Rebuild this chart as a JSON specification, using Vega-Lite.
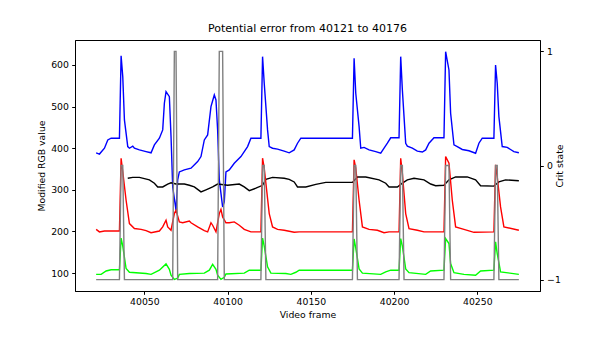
{
  "$schema": "https://vega.github.io/schema/vega-lite/v6.json",
  "width": 465,
  "height": 251,
  "autosize": {"type": "none"},
  "padding": {"left": 75, "top": 40, "right": 60, "bottom": 69},
  "title": {"text": "Potential error from 40121 to 40176", "fontSize": 11, "fontWeight": "normal", "font": "DejaVu Sans", "color": "#000", "offset": 5.6, "anchor": "middle"},
  "config": {
    "font": "DejaVu Sans",
    "view": {"stroke": "#000", "strokeWidth": 1},
    "axis": {"grid": false, "domainColor": "#000", "tickColor": "#000", "labelColor": "#000", "titleColor": "#000", "labelFont": "DejaVu Sans", "titleFont": "DejaVu Sans", "labelFontSize": 9.3, "titleFontSize": 9.3, "titleFontWeight": "normal", "tickSize": 3.3, "labelPadding": 3.3, "titlePadding": 3.7, "domainWidth": 1, "tickWidth": 1}
  },
  "datasets": {
    "blue": [
      {"frame": 40021, "value": 389}, {"frame": 40023, "value": 386}, {"frame": 40026, "value": 400}, {"frame": 40028, "value": 420}, {"frame": 40030, "value": 424}, {"frame": 40035, "value": 424}, {"frame": 40036, "value": 622}, {"frame": 40037, "value": 572}, {"frame": 40038, "value": 468}, {"frame": 40040, "value": 404}, {"frame": 40041, "value": 400}, {"frame": 40043, "value": 405}, {"frame": 40044, "value": 400}, {"frame": 40047, "value": 396}, {"frame": 40051, "value": 392}, {"frame": 40054, "value": 389}, {"frame": 40056, "value": 408}, {"frame": 40059, "value": 424}, {"frame": 40061, "value": 444}, {"frame": 40062, "value": 508}, {"frame": 40063, "value": 536}, {"frame": 40065, "value": 524}, {"frame": 40066, "value": 428}, {"frame": 40067, "value": 307}, {"frame": 40069, "value": 251}, {"frame": 40070, "value": 324}, {"frame": 40071, "value": 343}, {"frame": 40074, "value": 348}, {"frame": 40078, "value": 352}, {"frame": 40082, "value": 368}, {"frame": 40084, "value": 380}, {"frame": 40086, "value": 420}, {"frame": 40088, "value": 432}, {"frame": 40090, "value": 500}, {"frame": 40092, "value": 528}, {"frame": 40093, "value": 516}, {"frame": 40094, "value": 444}, {"frame": 40095, "value": 324}, {"frame": 40097, "value": 259}, {"frame": 40098, "value": 271}, {"frame": 40099, "value": 343}, {"frame": 40101, "value": 348}, {"frame": 40104, "value": 364}, {"frame": 40108, "value": 380}, {"frame": 40112, "value": 404}, {"frame": 40114, "value": 424}, {"frame": 40120, "value": 424}, {"frame": 40121, "value": 620}, {"frame": 40122, "value": 556}, {"frame": 40124, "value": 444}, {"frame": 40125, "value": 404}, {"frame": 40127, "value": 400}, {"frame": 40130, "value": 398}, {"frame": 40134, "value": 393}, {"frame": 40137, "value": 389}, {"frame": 40140, "value": 396}, {"frame": 40142, "value": 412}, {"frame": 40144, "value": 424}, {"frame": 40175, "value": 424}, {"frame": 40176, "value": 616}, {"frame": 40177, "value": 532}, {"frame": 40179, "value": 452}, {"frame": 40180, "value": 400}, {"frame": 40182, "value": 402}, {"frame": 40185, "value": 396}, {"frame": 40189, "value": 392}, {"frame": 40192, "value": 388}, {"frame": 40194, "value": 400}, {"frame": 40196, "value": 412}, {"frame": 40198, "value": 425}, {"frame": 40203, "value": 425}, {"frame": 40204, "value": 620}, {"frame": 40205, "value": 540}, {"frame": 40207, "value": 412}, {"frame": 40208, "value": 405}, {"frame": 40211, "value": 400}, {"frame": 40214, "value": 393}, {"frame": 40217, "value": 391}, {"frame": 40219, "value": 396}, {"frame": 40221, "value": 412}, {"frame": 40224, "value": 425}, {"frame": 40230, "value": 425}, {"frame": 40231, "value": 632}, {"frame": 40233, "value": 588}, {"frame": 40234, "value": 484}, {"frame": 40236, "value": 408}, {"frame": 40238, "value": 404}, {"frame": 40241, "value": 397}, {"frame": 40245, "value": 394}, {"frame": 40249, "value": 388}, {"frame": 40251, "value": 412}, {"frame": 40253, "value": 424}, {"frame": 40260, "value": 424}, {"frame": 40261, "value": 600}, {"frame": 40262, "value": 556}, {"frame": 40263, "value": 476}, {"frame": 40265, "value": 404}, {"frame": 40268, "value": 402}, {"frame": 40270, "value": 397}, {"frame": 40272, "value": 392}, {"frame": 40275, "value": 389}
    ],
    "black": [
      {"frame": 40040, "value": 328}, {"frame": 40043, "value": 330}, {"frame": 40047, "value": 330}, {"frame": 40053, "value": 324}, {"frame": 40056, "value": 316}, {"frame": 40058, "value": 307}, {"frame": 40061, "value": 307}, {"frame": 40064, "value": 314}, {"frame": 40066, "value": 317}, {"frame": 40069, "value": 314}, {"frame": 40074, "value": 314}, {"frame": 40077, "value": 311}, {"frame": 40080, "value": 307}, {"frame": 40084, "value": 295}, {"frame": 40087, "value": 300}, {"frame": 40091, "value": 307}, {"frame": 40094, "value": 314}, {"frame": 40100, "value": 311}, {"frame": 40107, "value": 314}, {"frame": 40110, "value": 307}, {"frame": 40113, "value": 298}, {"frame": 40117, "value": 304}, {"frame": 40121, "value": 311}, {"frame": 40123, "value": 325}, {"frame": 40127, "value": 330}, {"frame": 40134, "value": 328}, {"frame": 40137, "value": 325}, {"frame": 40140, "value": 319}, {"frame": 40142, "value": 307}, {"frame": 40147, "value": 307}, {"frame": 40153, "value": 313}, {"frame": 40159, "value": 318}, {"frame": 40175, "value": 318}, {"frame": 40178, "value": 331}, {"frame": 40183, "value": 331}, {"frame": 40191, "value": 324}, {"frame": 40195, "value": 316}, {"frame": 40197, "value": 307}, {"frame": 40202, "value": 307}, {"frame": 40205, "value": 316}, {"frame": 40208, "value": 324}, {"frame": 40212, "value": 328}, {"frame": 40218, "value": 324}, {"frame": 40222, "value": 314}, {"frame": 40225, "value": 310}, {"frame": 40230, "value": 311}, {"frame": 40233, "value": 324}, {"frame": 40237, "value": 331}, {"frame": 40244, "value": 331}, {"frame": 40249, "value": 324}, {"frame": 40252, "value": 310}, {"frame": 40260, "value": 309}, {"frame": 40263, "value": 319}, {"frame": 40267, "value": 324}, {"frame": 40275, "value": 322}
    ],
    "red": [
      {"frame": 40021, "value": 205}, {"frame": 40023, "value": 199}, {"frame": 40026, "value": 201}, {"frame": 40035, "value": 201}, {"frame": 40036, "value": 376}, {"frame": 40037, "value": 343}, {"frame": 40039, "value": 275}, {"frame": 40041, "value": 219}, {"frame": 40044, "value": 207}, {"frame": 40048, "value": 205}, {"frame": 40051, "value": 202}, {"frame": 40054, "value": 197}, {"frame": 40059, "value": 201}, {"frame": 40061, "value": 211}, {"frame": 40063, "value": 227}, {"frame": 40064, "value": 211}, {"frame": 40066, "value": 203}, {"frame": 40068, "value": 243}, {"frame": 40069, "value": 251}, {"frame": 40071, "value": 223}, {"frame": 40073, "value": 221}, {"frame": 40077, "value": 225}, {"frame": 40078, "value": 221}, {"frame": 40082, "value": 211}, {"frame": 40086, "value": 202}, {"frame": 40088, "value": 199}, {"frame": 40090, "value": 221}, {"frame": 40091, "value": 215}, {"frame": 40093, "value": 199}, {"frame": 40095, "value": 243}, {"frame": 40096, "value": 253}, {"frame": 40097, "value": 235}, {"frame": 40099, "value": 221}, {"frame": 40101, "value": 221}, {"frame": 40104, "value": 223}, {"frame": 40107, "value": 215}, {"frame": 40110, "value": 205}, {"frame": 40114, "value": 199}, {"frame": 40120, "value": 199}, {"frame": 40121, "value": 376}, {"frame": 40122, "value": 352}, {"frame": 40125, "value": 243}, {"frame": 40127, "value": 211}, {"frame": 40130, "value": 205}, {"frame": 40134, "value": 203}, {"frame": 40140, "value": 198}, {"frame": 40143, "value": 199}, {"frame": 40175, "value": 199}, {"frame": 40176, "value": 372}, {"frame": 40177, "value": 352}, {"frame": 40179, "value": 275}, {"frame": 40181, "value": 211}, {"frame": 40185, "value": 205}, {"frame": 40190, "value": 203}, {"frame": 40194, "value": 197}, {"frame": 40197, "value": 199}, {"frame": 40203, "value": 199}, {"frame": 40204, "value": 376}, {"frame": 40205, "value": 340}, {"frame": 40207, "value": 243}, {"frame": 40209, "value": 207}, {"frame": 40214, "value": 203}, {"frame": 40218, "value": 199}, {"frame": 40230, "value": 199}, {"frame": 40231, "value": 380}, {"frame": 40233, "value": 364}, {"frame": 40235, "value": 275}, {"frame": 40237, "value": 211}, {"frame": 40242, "value": 205}, {"frame": 40248, "value": 198}, {"frame": 40260, "value": 199}, {"frame": 40261, "value": 360}, {"frame": 40262, "value": 331}, {"frame": 40264, "value": 259}, {"frame": 40266, "value": 211}, {"frame": 40275, "value": 203}
    ],
    "green": [
      {"frame": 40021, "value": 97}, {"frame": 40024, "value": 97}, {"frame": 40027, "value": 105}, {"frame": 40030, "value": 108}, {"frame": 40035, "value": 108}, {"frame": 40036, "value": 184}, {"frame": 40037, "value": 165}, {"frame": 40039, "value": 111}, {"frame": 40041, "value": 102}, {"frame": 40051, "value": 99}, {"frame": 40054, "value": 97}, {"frame": 40059, "value": 107}, {"frame": 40063, "value": 122}, {"frame": 40065, "value": 109}, {"frame": 40066, "value": 95}, {"frame": 40068, "value": 85}, {"frame": 40070, "value": 88}, {"frame": 40071, "value": 97}, {"frame": 40077, "value": 99}, {"frame": 40086, "value": 100}, {"frame": 40089, "value": 107}, {"frame": 40091, "value": 121}, {"frame": 40093, "value": 109}, {"frame": 40094, "value": 95}, {"frame": 40096, "value": 85}, {"frame": 40098, "value": 90}, {"frame": 40099, "value": 98}, {"frame": 40110, "value": 100}, {"frame": 40113, "value": 107}, {"frame": 40120, "value": 107}, {"frame": 40121, "value": 184}, {"frame": 40122, "value": 165}, {"frame": 40124, "value": 115}, {"frame": 40126, "value": 100}, {"frame": 40135, "value": 99}, {"frame": 40138, "value": 97}, {"frame": 40141, "value": 102}, {"frame": 40143, "value": 107}, {"frame": 40175, "value": 107}, {"frame": 40176, "value": 182}, {"frame": 40177, "value": 160}, {"frame": 40179, "value": 110}, {"frame": 40181, "value": 100}, {"frame": 40192, "value": 97}, {"frame": 40195, "value": 103}, {"frame": 40198, "value": 107}, {"frame": 40203, "value": 107}, {"frame": 40204, "value": 183}, {"frame": 40205, "value": 165}, {"frame": 40207, "value": 110}, {"frame": 40209, "value": 101}, {"frame": 40219, "value": 97}, {"frame": 40222, "value": 105}, {"frame": 40230, "value": 107}, {"frame": 40231, "value": 183}, {"frame": 40233, "value": 171}, {"frame": 40234, "value": 123}, {"frame": 40236, "value": 101}, {"frame": 40242, "value": 97}, {"frame": 40249, "value": 95}, {"frame": 40252, "value": 105}, {"frame": 40260, "value": 107}, {"frame": 40261, "value": 175}, {"frame": 40262, "value": 147}, {"frame": 40264, "value": 103}, {"frame": 40275, "value": 97}
    ],
    "crit": [
      {"frame": 40021, "value": -1}, {"frame": 40035, "value": -1}, {"frame": 40036, "value": 0}, {"frame": 40037, "value": 0}, {"frame": 40038, "value": -1}, {"frame": 40067, "value": -1}, {"frame": 40068, "value": 1}, {"frame": 40069, "value": 1}, {"frame": 40070, "value": -1}, {"frame": 40094, "value": -1}, {"frame": 40095, "value": 1}, {"frame": 40097, "value": 1}, {"frame": 40098, "value": -1}, {"frame": 40120, "value": -1}, {"frame": 40121, "value": 0}, {"frame": 40122, "value": 0}, {"frame": 40123, "value": -1}, {"frame": 40175, "value": -1}, {"frame": 40176, "value": 0}, {"frame": 40177, "value": 0}, {"frame": 40178, "value": -1}, {"frame": 40203, "value": -1}, {"frame": 40204, "value": 0}, {"frame": 40205, "value": 0}, {"frame": 40206, "value": -1}, {"frame": 40230, "value": -1}, {"frame": 40231, "value": 0}, {"frame": 40233, "value": 0}, {"frame": 40234, "value": -1}, {"frame": 40260, "value": -1}, {"frame": 40261, "value": 0}, {"frame": 40262, "value": 0}, {"frame": 40263, "value": -1}, {"frame": 40275, "value": -1}
    ]
  },
  "layer": [
    {
      "encoding": {
        "x": {"field": "frame", "type": "quantitative", "scale": {"domain": [40008.3, 40287.7], "nice": false, "zero": false}, "axis": {"title": "Video frame", "values": [40050, 40100, 40150, 40200, 40250], "format": "d"}},
        "y": {"field": "value", "type": "quantitative", "scale": {"domain": [57, 660], "nice": false, "zero": false}, "axis": {"title": "Modified RGB value", "values": [100, 200, 300, 400, 500, 600], "format": "d", "orient": "left"}}
      },
      "layer": [
        {"data": {"name": "blue"}, "mark": {"type": "line", "color": "#0000ff", "strokeWidth": 1.4, "clip": true}},
        {"data": {"name": "black"}, "mark": {"type": "line", "color": "#000000", "strokeWidth": 1.4, "clip": true}},
        {"data": {"name": "red"}, "mark": {"type": "line", "color": "#ff0000", "strokeWidth": 1.4, "clip": true}},
        {"data": {"name": "green"}, "mark": {"type": "line", "color": "#00ff00", "strokeWidth": 1.4, "clip": true}}
      ]
    },
    {
      "data": {"name": "crit"},
      "mark": {"type": "line", "color": "#808080", "strokeWidth": 1.4, "clip": true},
      "encoding": {
        "x": {"field": "frame", "type": "quantitative", "scale": {"domain": [40008.3, 40287.7], "nice": false, "zero": false}, "axis": {"title": "Video frame", "values": [40050, 40100, 40150, 40200, 40250], "format": "d"}},
        "y": {"field": "value", "type": "quantitative", "scale": {"domain": [-1.1, 1.1], "nice": false, "zero": false}, "axis": {"title": "Crit state", "values": [-1, 0, 1], "format": "d", "orient": "right", "titleAngle": 270, "titleBaseline": "bottom"}}
      }
    }
  ],
  "resolve": {"scale": {"y": "independent"}}
}
